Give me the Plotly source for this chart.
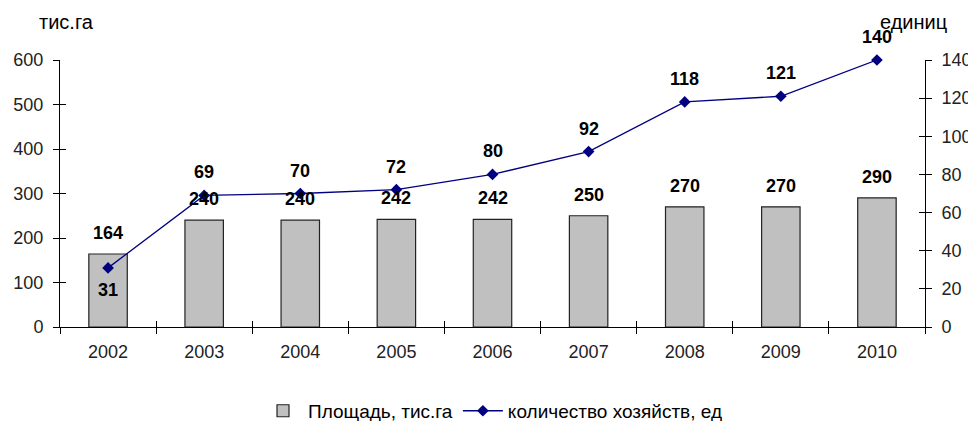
import plotly.graph_objects as go

years = ["2002", "2003", "2004", "2005", "2006", "2007", "2008", "2009", "2010"]
area = [164, 240, 240, 242, 242, 250, 270, 270, 290]
farms = [31, 69, 70, 72, 80, 92, 118, 121, 140]
left_title = "тис.га"
right_title = "единиц"
area_name = "Площадь, тис.га"
farms_name = "количество хозяйств, ед"

FONT = "Liberation Sans, Arial, sans-serif"
TICKF = dict(family=FONT, size=18, color="#222")
LBLF = dict(family=FONT, size=18, color="#000", weight="bold")

fig = go.Figure()
fig.add_trace(go.Bar(
    x=years, y=area, name=area_name, width=0.4,
    marker=dict(color="#c0c0c0", line=dict(color="#222", width=1.2)),
))
fig.add_trace(go.Scatter(
    x=years, y=farms, name=farms_name, yaxis="y2", mode="lines+markers",
    line=dict(color="#000080", width=1.3),
    marker=dict(symbol="diamond", size=9, color="#000080"),
    cliponaxis=False,
))
# invisible helper traces for crossing ticks
fig.add_trace(go.Scatter(x=years, y=area, xaxis="x2", yaxis="y3", mode="lines",
                         line=dict(width=0), showlegend=False, hoverinfo="skip"))
fig.add_trace(go.Scatter(x=years, y=farms, xaxis="x2", yaxis="y4", mode="lines",
                         line=dict(width=0), showlegend=False, hoverinfo="skip"))

annotations = []
for i, v in enumerate(area):
    annotations.append(dict(x=i, y=v, xref="x", yref="y", text=str(v), showarrow=False,
                            yshift=21, font=LBLF))
for i, v in enumerate(farms):
    annotations.append(dict(x=i, y=v, xref="x", yref="y2", text=str(v), showarrow=False,
                            yshift=-22 if i == 0 else 23, font=LBLF))
annotations += [
    dict(text=left_title, xref="paper", yref="paper", x=-0.027, y=1.0, yshift=38,
         xanchor="left", yanchor="middle", showarrow=False,
         font=dict(family=FONT, size=20, color="#000")),
    dict(text=right_title, xref="paper", yref="paper", x=0.987, y=1.0, yshift=38,
         xanchor="center", yanchor="middle", showarrow=False,
         font=dict(family=FONT, size=20, color="#000")),
]

fig.update_layout(
    width=976, height=421,
    margin=dict(l=52, r=59, t=52, b=102, autoexpand=False),
    paper_bgcolor="white", plot_bgcolor="white",
    font=dict(family=FONT),
    xaxis=dict(type="category", range=[-0.5, 8.5], showline=True, linecolor="#000",
               linewidth=1, ticks="outside", ticklen=6, tickcolor="#000",
               tickson="boundaries", showgrid=False, tickfont=TICKF,
               ticklabelstandoff=8, automargin=False),
    xaxis2=dict(type="category", range=[-0.5, 8.5], overlaying="x", anchor="y",
                side="bottom", ticks="inside", ticklen=6, tickcolor="#000",
                tickson="boundaries", showticklabels=False, showgrid=False,
                showline=False, automargin=False),
    yaxis=dict(range=[0, 600], dtick=100, showline=True, linecolor="#000", linewidth=1,
               ticks="outside", ticklen=6, tickcolor="#000", showgrid=False,
               zeroline=False, tickfont=TICKF, ticklabelstandoff=6, automargin=False),
    yaxis2=dict(range=[0, 140], dtick=20, overlaying="y", side="right", showline=True,
                linecolor="#000", linewidth=1, ticks="outside", ticklen=6,
                tickcolor="#000", showgrid=False, zeroline=False, tickfont=TICKF,
                ticklabelstandoff=6, automargin=False),
    yaxis3=dict(range=[0, 600], dtick=100, overlaying="y", side="left", anchor="x",
                ticks="inside", ticklen=6, tickcolor="#000", showticklabels=False,
                showgrid=False, zeroline=False, showline=False, automargin=False),
    yaxis4=dict(range=[0, 140], dtick=20, overlaying="y", side="right", anchor="x",
                ticks="inside", ticklen=6, tickcolor="#000", showticklabels=False,
                showgrid=False, zeroline=False, showline=False, automargin=False),
    legend=dict(orientation="h", x=0.5, xanchor="center", yref="container",
                y=0.043, yanchor="middle", itemwidth=40,
                font=dict(family=FONT, size=19, color="#000"),
                traceorder="normal"),
    annotations=annotations,
)
fig.write_html("out.html")
